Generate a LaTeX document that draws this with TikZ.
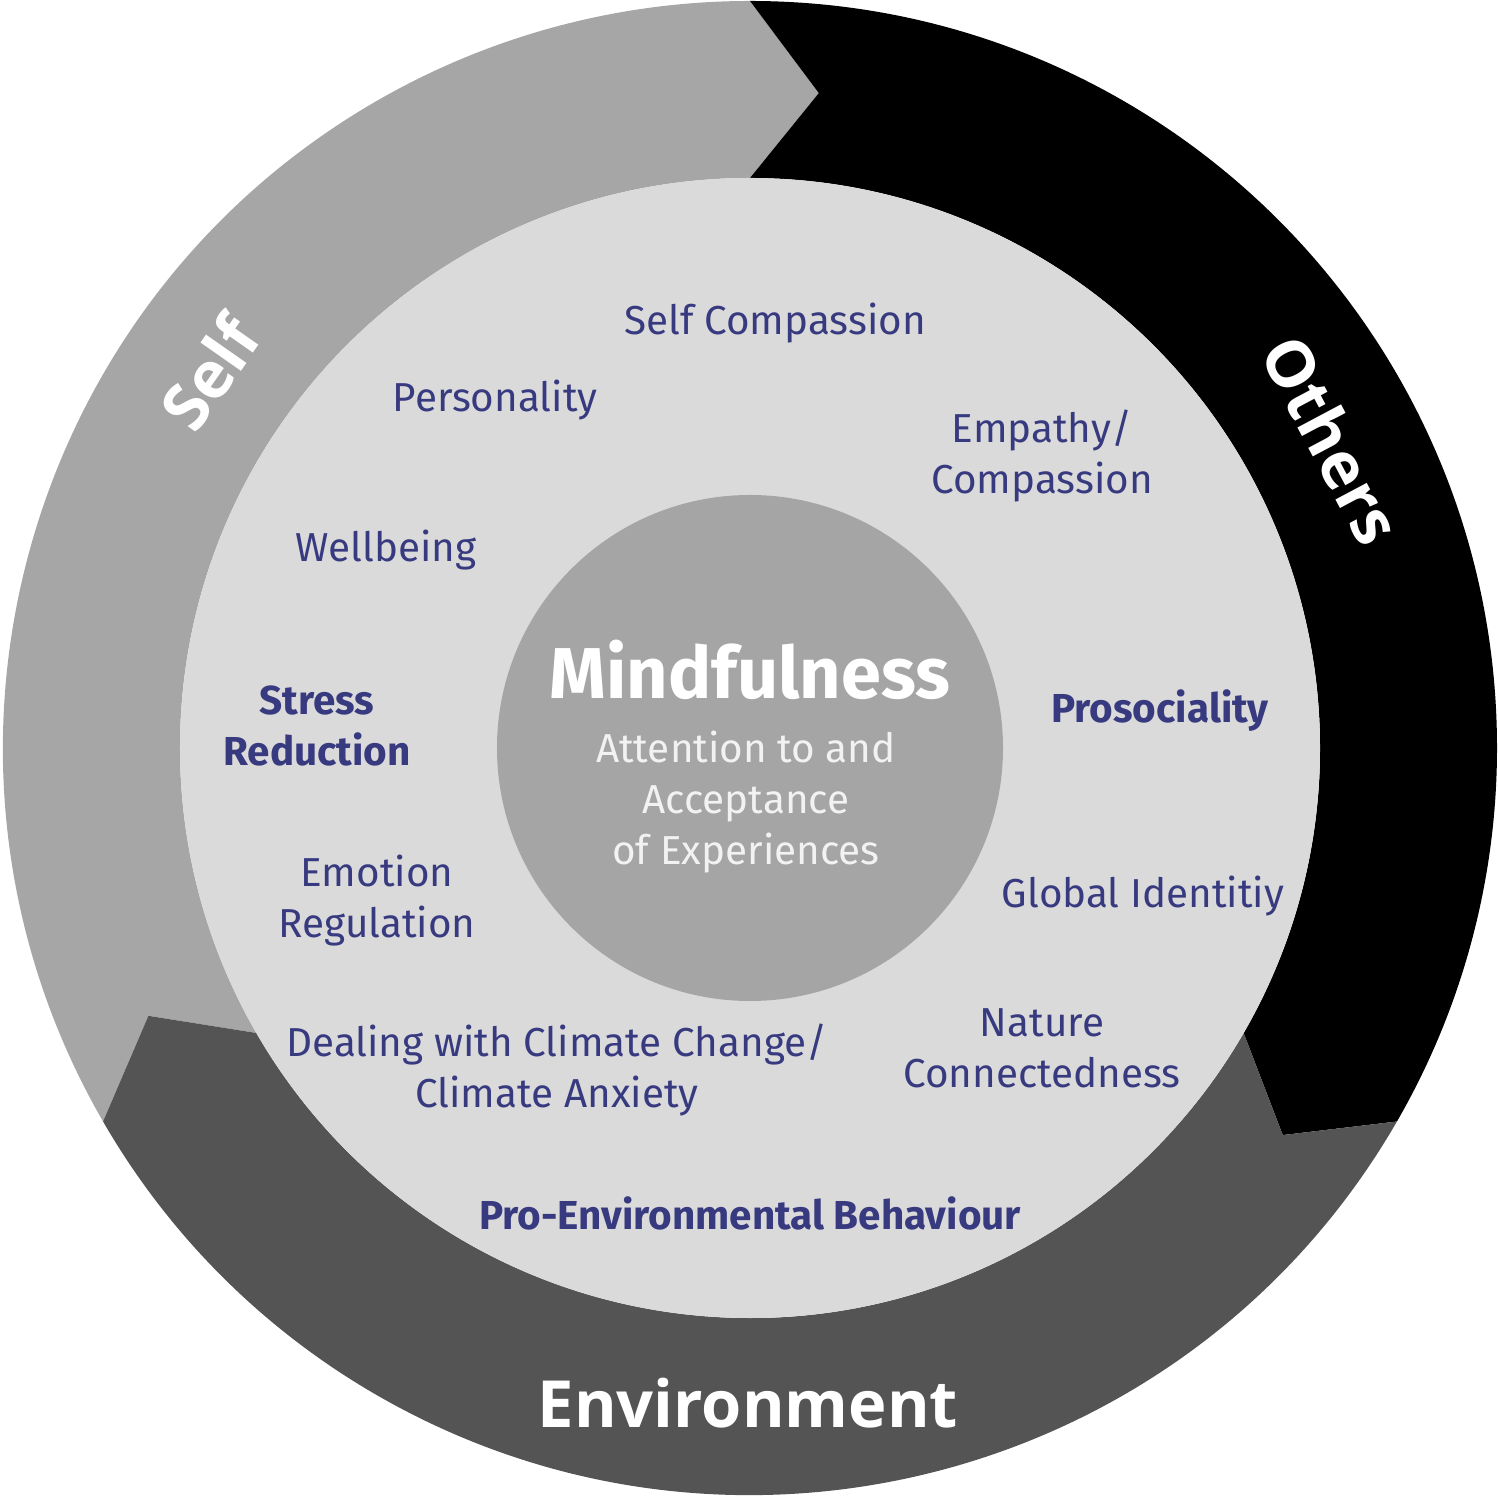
\documentclass[tikz,border=0pt]{standalone}
\usepackage{fontspec}
\setmainfont{Fira Sans}
\newfontfamily\ringfont{Open Sans}
\definecolor{selfgray}{HTML}{A6A6A6}
\definecolor{envgray}{HTML}{545454}
\definecolor{innergray}{HTML}{DADADA}
\definecolor{coregray}{HTML}{A5A5A5}
\definecolor{topicblue}{RGB}{56,58,128}
\definecolor{subwhite}{HTML}{F2F2F2}
\begin{document}
\begin{tikzpicture}[
		item/.style={text=topicblue, align=center, font=\fontsize{11.5}{14.5}\selectfont},
		itembold/.style={item, font=\fontsize{11.5}{14.5}\selectfont\bfseries},
		ringlabel/.style={text=white, font=\ringfont\bfseries\fontsize{18.5}{20}\selectfont}
	]
	\useasboundingbox (-7.50, -7.51) rectangle (7.47, 7.48);

	% outer ring: three arrows
	\fill[selfgray] (210:7.47) arc[start angle=210, end angle=90, radius=7.47] -- (84:6.585) -- (90:5.70)
		arc[start angle=90, end angle=210, radius=5.70] -- (204:6.585) -- cycle;
	\fill[black] (90:7.47) arc[start angle=90, end angle=-30, radius=7.47] -- (-36:6.585) -- (-30:5.70)
		arc[start angle=-30, end angle=90, radius=5.70] -- (84:6.585) -- cycle;
	\fill[envgray] (-30:7.47) arc[start angle=-30, end angle=-150, radius=7.47] -- (-156:6.585) -- (-150:5.70)
		arc[start angle=-150, end angle=-30, radius=5.70] -- (-36:6.585) -- cycle;

	\fill[innergray] (0, 0) circle (5.70);
	\fill[coregray] (0, 0) circle (2.53);

	% ring labels
	\node[ringlabel, rotate=55] (self) at (-5.40, 3.75) {Self};
	\node[ringlabel, rotate=-62] (others) at (5.82, 3.08) {Others};
	\node[ringlabel] (environment) at (-0.02, -6.55) {Environment};

	% centre
	\node[text=white, font=\fontsize{20.5}{22}\selectfont\bfseries] (mindful) at (0, 0.78) {Mindfulness};
	\node[text=subwhite, align=center, font=\fontsize{11.5}{14.5}\selectfont] (attention) at (-0.04, -0.54)
		{Attention to and\\Acceptance\\of Experiences};

	% topics
	\node[item] (selfcomp) at (0.25, 4.25) {Self Compassion};
	\node[item] (personality) at (-2.55, 3.48) {Personality};
	\node[item] (empathy) at (2.92, 2.92) {Empathy/\\Compassion};
	\node[item] (wellbeing) at (-3.64, 1.98) {Wellbeing};
	\node[itembold] (stress) at (-4.33, 0.22) {Stress\\Reduction};
	\node[item] (emotion) at (-3.73, -1.53) {Emotion\\Regulation};
	\node[item] (climate) at (-1.93, -3.22) {Dealing with Climate Change/\\Climate Anxiety};
	\node[item] (nature) at (2.92, -3.00) {Nature\\Connectedness};
	\node[item] (global) at (3.93, -1.48) {Global Identitiy};
	\node[itembold] (prosocial) at (4.10, 0.37) {Prosociality};
	\node[itembold] (proenv) at (0, -4.65) {Pro-Environmental Behaviour};
\end{tikzpicture}
\end{document}
